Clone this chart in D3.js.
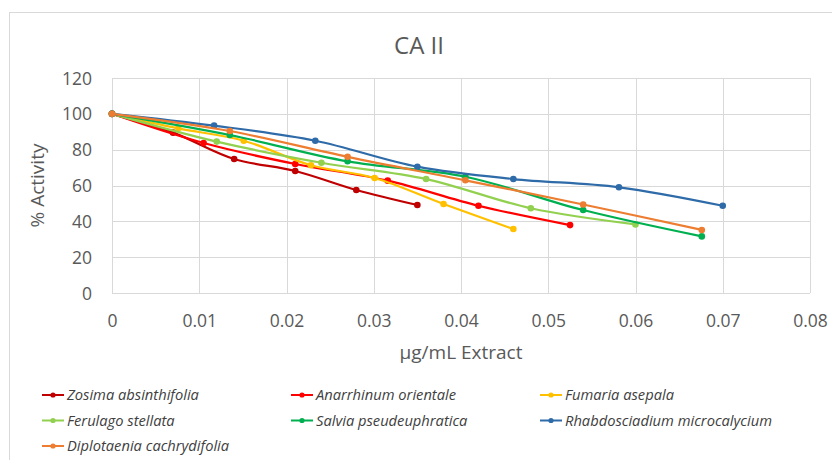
<!DOCTYPE html>
<html>
<head>
<meta charset="utf-8">
<script src="https://cdn.jsdelivr.net/npm/d3@7"></script>
<style>
  body { margin: 0; background: #fff; }
  svg { display: block; font-family: "Open Sans", Lato, sans-serif; }
</style>
</head>
<body>
<div id="chart"></div>
<script>
// data
var seriesNames = ["Zosima absinthifolia", "Anarrhinum orientale", "Fumaria asepala",
  "Ferulago stellata", "Salvia pseudeuphratica", "Rhabdosciadium microcalycium",
  "Diplotaenia cachrydifolia"];
var seriesColors = ["#C00000", "#FF0000", "#FFC000", "#92D050", "#00B050", "#2E6BA8", "#ED7D31"];

var zosimaX = [0, 0.007, 0.014, 0.021, 0.028, 0.035];
var zosimaY = [100, 89.5, 74.8, 68.1, 57.5, 49.1];
var anarrhinumX = [0, 0.0105, 0.021, 0.0316, 0.042, 0.0525];
var anarrhinumY = [100, 83.7, 72.0, 62.7, 48.7, 37.9];
var fumariaX = [0, 0.0076, 0.0151, 0.0228, 0.0301, 0.0380, 0.0460];
var fumariaY = [100, 91.9, 85.0, 71.3, 64.2, 49.7, 35.7];
var ferulagoX = [0, 0.012, 0.024, 0.036, 0.048, 0.060];
var ferulagoY = [100, 84.5, 72.7, 63.6, 47.3, 38.3];
var salviaX = [0, 0.0135, 0.027, 0.0405, 0.054, 0.0676];
var salviaY = [100, 88.2, 73.5, 64.9, 46.3, 31.6];
var rhabdoX = [0, 0.0117, 0.0233, 0.035, 0.046, 0.0581, 0.070];
var rhabdoY = [100, 93.4, 85.0, 70.5, 63.6, 59.0, 48.7];
var diploX = [0, 0.0135, 0.027, 0.0405, 0.054, 0.0676];
var diploY = [100, 90.4, 76.0, 62.9, 49.4, 35.2];

var xTicks = [0, 0.01, 0.02, 0.03, 0.04, 0.05, 0.06, 0.07, 0.08];
var yTicks = [0, 20, 40, 60, 80, 100, 120];

var allX = [zosimaX, anarrhinumX, fumariaX, ferulagoX, salviaX, rhabdoX, diploX];
var allY = [zosimaY, anarrhinumY, fumariaY, ferulagoY, salviaY, rhabdoY, diploY];

var series = seriesNames.map(function(name, i) {
  return {
    name: name,
    color: seriesColors[i],
    points: allX[i].map(function(x, j) { return {x: x, y: allY[i][j]}; })
  };
});

var W = 832, H = 460;
var margin = {top: 78, right: 22, bottom: 167, left: 112};
var width = W - margin.left - margin.right,
    height = H - margin.top - margin.bottom;

var svg = d3.select("#chart").append("svg")
  .attr("width", W)
  .attr("height", H);

// chart frame (runs off the right / bottom of the picture)
svg.append("rect")
  .attr("x", 9.5).attr("y", 12.5)
  .attr("width", 840).attr("height", 470)
  .attr("fill", "none")
  .attr("stroke", "#d9d9d9")
  .attr("stroke-width", 1);

var xScale = d3.scaleLinear().domain([0, 0.08]).range([0, width]);
var yScale = d3.scaleLinear().domain([0, 120]).range([height, 0]);

var g = svg.append("g")
  .attr("transform", "translate(" + margin.left + "," + margin.top + ")");

// gridlines
g.append("g").selectAll("line.h")
  .data(yTicks).enter().append("line")
  .attr("x1", 0).attr("x2", width)
  .attr("y1", function(d) { return Math.round(yScale(d)) + 0.5; })
  .attr("y2", function(d) { return Math.round(yScale(d)) + 0.5; })
  .attr("stroke", "#d9d9d9");

g.append("g").selectAll("line.v")
  .data(xTicks).enter().append("line")
  .attr("y1", 0).attr("y2", height)
  .attr("x1", function(d) { return Math.round(xScale(d)) + 0.5; })
  .attr("x2", function(d) { return Math.round(xScale(d)) + 0.5; })
  .attr("stroke", "#d9d9d9");

// axes (text only, Excel style)
var xAxis = d3.axisBottom(xScale).tickValues(xTicks).tickSize(0).tickPadding(22)
  .tickFormat(function(d) { return d === 0 ? "0" : d3.format(".2f")(d); });
var yAxis = d3.axisLeft(yScale).tickValues(yTicks).tickSize(0).tickPadding(20)
  .tickFormat(d3.format("d"));

var gx = g.append("g").attr("transform", "translate(0," + height + ")").call(xAxis);
var gy = g.append("g").call(yAxis);
[gx, gy].forEach(function(a) {
  a.select(".domain").remove();
  a.selectAll("text")
    .attr("fill", "#595959")
    .style("font-size", "17.5px")
    .style("font-family", "'Open Sans', Lato, sans-serif");
});
gy.selectAll("text").attr("dy", "0.35em");

// lines
var line = d3.line()
  .x(function(d) { return xScale(d.x); })
  .y(function(d) { return yScale(d.y); })
  .curve(d3.curveCatmullRom.alpha(0.5));

var sg = g.selectAll(".series")
  .data(series).enter().append("g")
  .attr("class", "series");

sg.append("path")
  .attr("d", function(d) { return line(d.points); })
  .attr("fill", "none")
  .attr("stroke", function(d) { return d.color; })
  .attr("stroke-width", 2.2)
  .attr("stroke-linejoin", "round");

sg.selectAll("circle")
  .data(function(d) { return d.points.map(function(p) { return {p: p, c: d.color}; }); })
  .enter().append("circle")
  .attr("cx", function(d) { return xScale(d.p.x); })
  .attr("cy", function(d) { return yScale(d.p.y); })
  .attr("r", 3.3)
  .attr("fill", function(d) { return d.c; });

// title
svg.append("text")
  .attr("x", 419).attr("y", 54)
  .attr("text-anchor", "middle")
  .attr("fill", "#595959")
  .style("font-size", "24px")
  .text("CA II");

// axis titles
svg.append("text")
  .attr("x", margin.left + width / 2).attr("y", 359)
  .attr("text-anchor", "middle")
  .attr("fill", "#595959")
  .style("font-size", "19px")
  .text("µg/mL Extract");

svg.append("text")
  .attr("transform", "translate(44," + (margin.top + height / 2) + ") rotate(-90)")
  .attr("text-anchor", "middle")
  .attr("fill", "#595959")
  .style("font-size", "19px")
  .text("% Activity");

// legend
var colX = [42, 291, 540];
var rowY = [395, 420.5, 446];
var leg = svg.selectAll(".leg")
  .data(series).enter().append("g")
  .attr("class", "leg")
  .attr("transform", function(d, i) {
    return "translate(" + colX[i % 3] + "," + rowY[Math.floor(i / 3)] + ")";
  });

leg.append("line")
  .attr("x1", 0).attr("x2", 22)
  .attr("stroke", function(d) { return d.color; })
  .attr("stroke-width", 2);
leg.append("circle")
  .attr("cx", 11).attr("r", 2.6)
  .attr("fill", function(d) { return d.color; });
leg.append("text")
  .attr("x", 25).attr("dy", "0.35em")
  .attr("fill", "#404040")
  .style("font-size", "14.7px")
  .style("font-style", "italic")
  .text(function(d) { return d.name; });
</script>
</body>
</html>
